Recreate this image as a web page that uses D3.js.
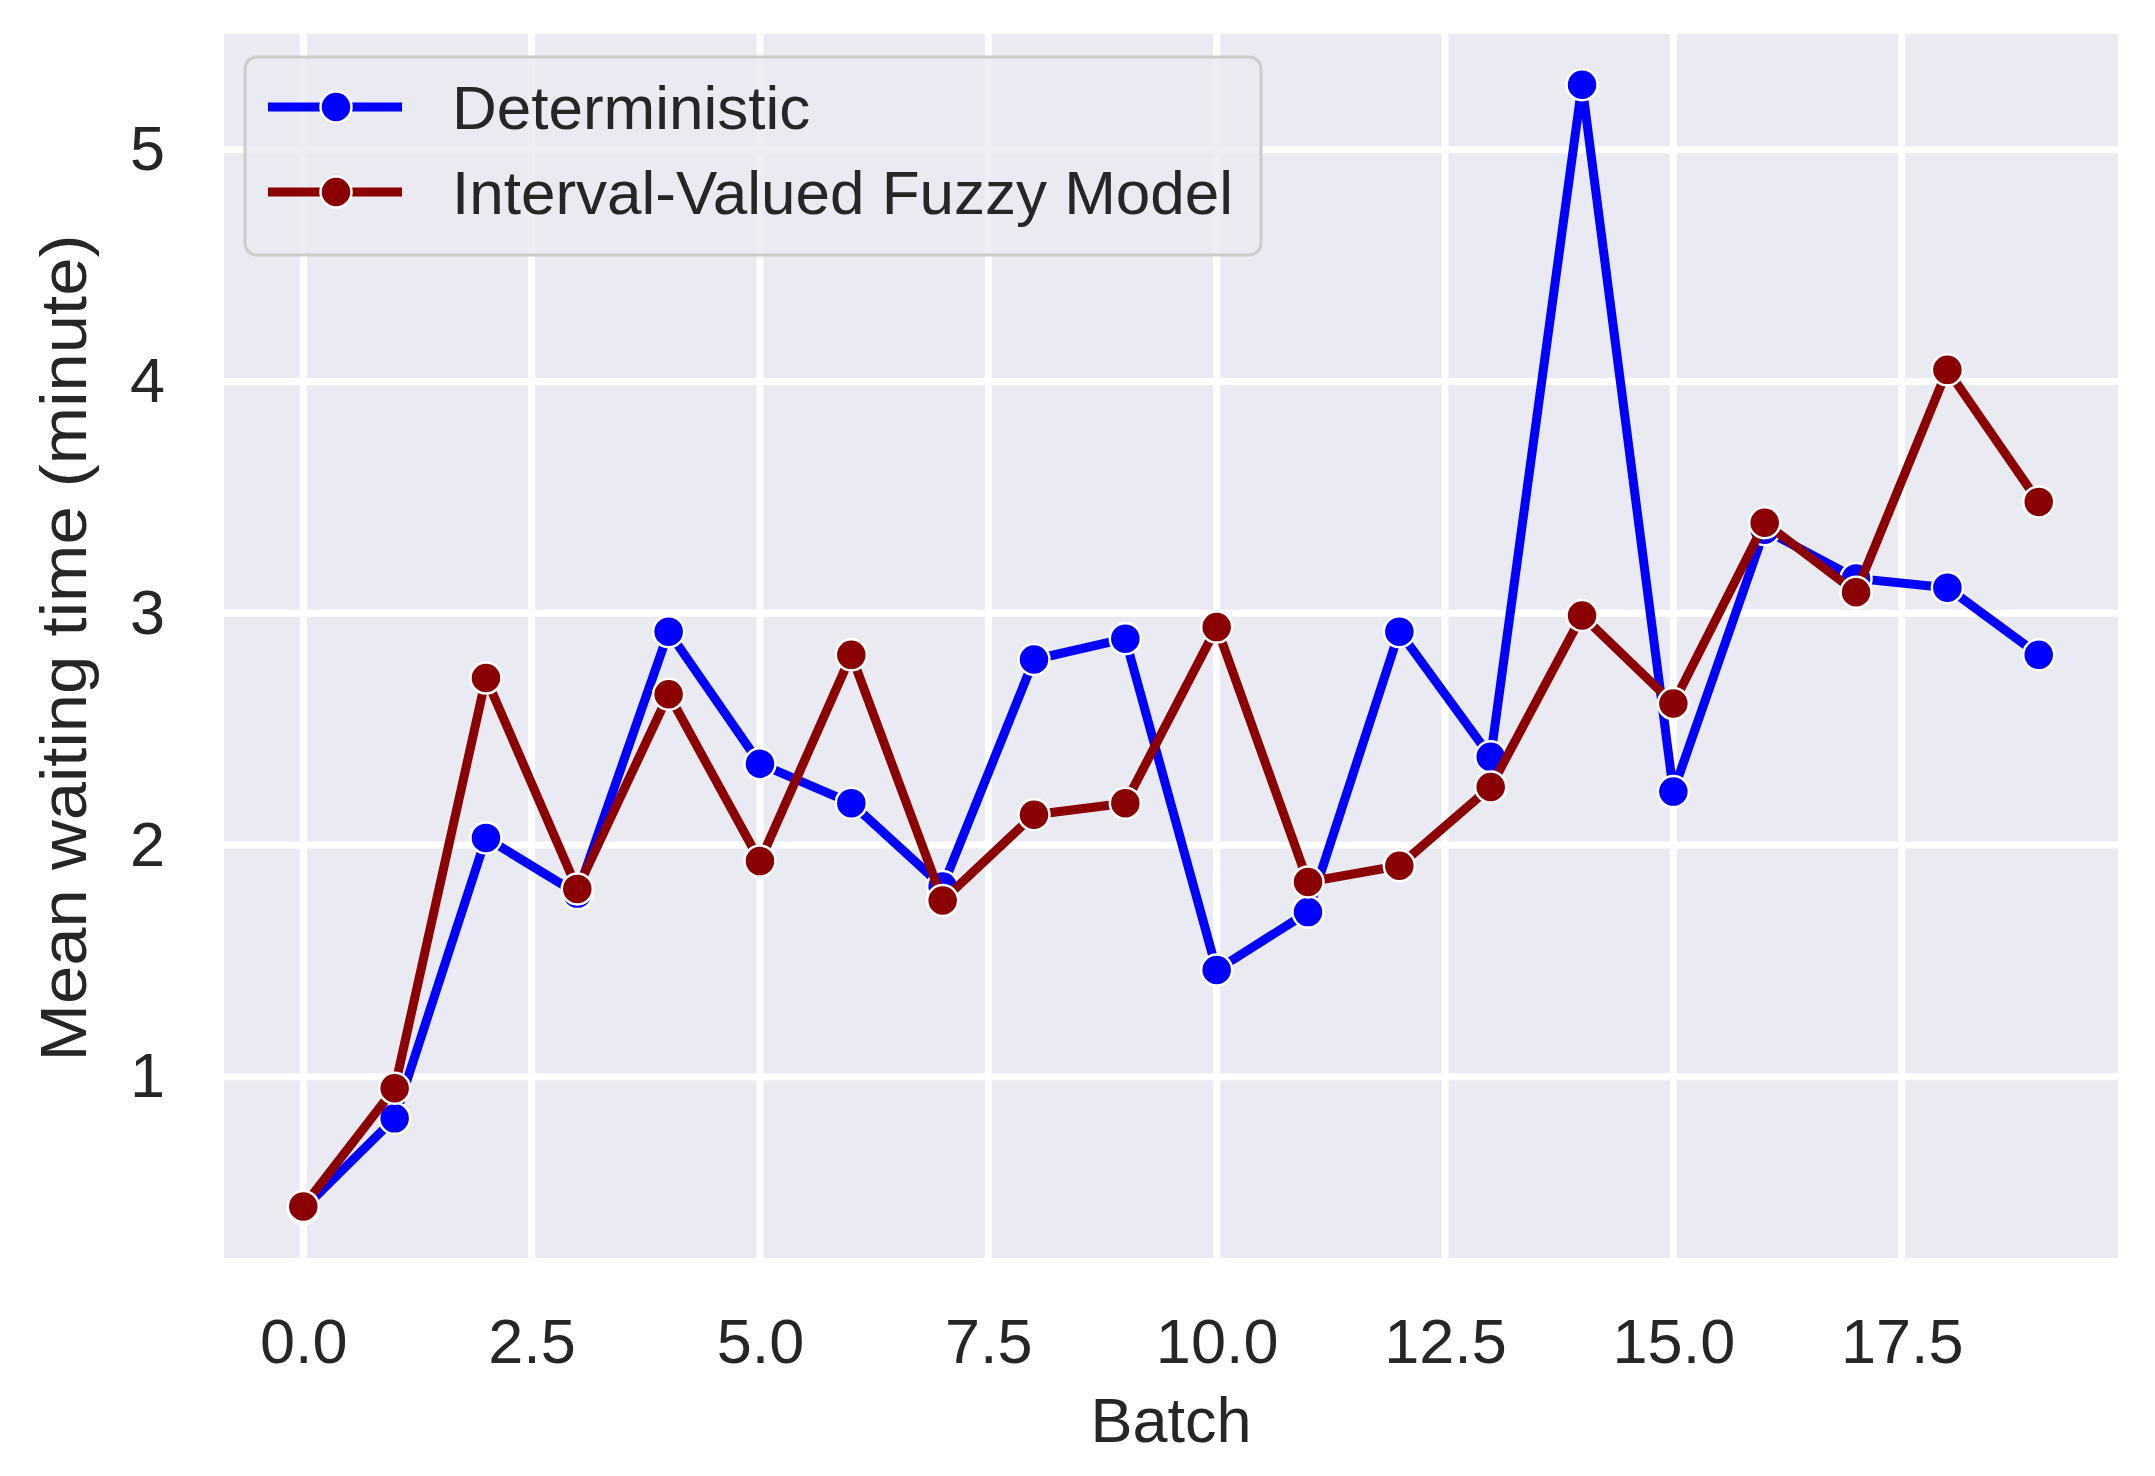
<!DOCTYPE html>
<html>
<head>
<meta charset="utf-8">
<script src="https://cdn.jsdelivr.net/npm/d3@7"></script>
<style>
  html, body { margin: 0; padding: 0; background: #ffffff; }
  svg { display: block; }
  text { font-family: "Liberation Sans", Arial, sans-serif; fill: #262626; }
</style>
</head>
<body>
<svg id="chart" width="2155" height="1476"></svg>
<script>
// ---- data ----
const batches = [0,1,2,3,4,5,6,7,8,9,10,11,12,13,14,15,16,17,18,19];
const deterministic = [0.43, 0.82, 2.03, 1.79, 2.92, 2.35, 2.18, 1.82, 2.80, 2.89,
                       1.46, 1.71, 2.92, 2.38, 5.28, 2.23, 3.36, 3.15, 3.11, 2.82];
const fuzzy = [0.44, 0.95, 2.72, 1.81, 2.65, 1.93, 2.82, 1.76, 2.13, 2.18,
               2.94, 1.84, 1.91, 2.25, 2.99, 2.61, 3.39, 3.09, 4.05, 3.48];
const xTicks = [0, 2.5, 5, 7.5, 10, 12.5, 15, 17.5];
const yTicks = [1, 2, 3, 4, 5];
const seriesNames = ["Deterministic", "Interval-Valued Fuzzy Model"];
const seriesColors = ["#0000ff", "#8b0000"];

// ---- layout ----
const plot = { left: 224, right: 2118, top: 34, bottom: 1258 };
const svg = d3.select("#chart");

const x = d3.scaleLinear().domain([-0.868, 19.868]).range([plot.left, plot.right]);
const y = d3.scaleLinear().domain([0.2175, 5.499]).range([plot.bottom, plot.top]);

// background
svg.append("rect")
  .attr("x", plot.left).attr("y", plot.top)
  .attr("width", plot.right - plot.left).attr("height", plot.bottom - plot.top)
  .attr("fill", "#eaeaf2");

// grid
const grid = svg.append("g");
grid.selectAll("line.v").data(xTicks).join("line")
  .attr("x1", d => x(d)).attr("x2", d => x(d))
  .attr("y1", plot.top).attr("y2", plot.bottom)
  .attr("stroke", "#ffffff").attr("stroke-width", 7);
grid.selectAll("line.h").data(yTicks).join("line")
  .attr("y1", d => y(d)).attr("y2", d => y(d))
  .attr("x1", plot.left).attr("x2", plot.right)
  .attr("stroke", "#ffffff").attr("stroke-width", 7);

// axes (tick labels only)
const xAxis = d3.axisBottom(x).tickValues(xTicks).tickFormat(d3.format(".1f")).tickSize(0).tickPadding(60);
const gx = svg.append("g").attr("transform", `translate(0,${plot.bottom})`).call(xAxis);
gx.select(".domain").remove();
gx.selectAll("text").attr("font-size", 63).attr("fill", "#262626")
  .attr("font-family", "Liberation Sans, Arial, sans-serif");

const yAxis = d3.axisLeft(y).tickValues(yTicks).tickFormat(d3.format("d")).tickSize(0).tickPadding(59);
const gy = svg.append("g").attr("transform", `translate(${plot.left},0)`).call(yAxis);
gy.select(".domain").remove();
gy.selectAll("text").attr("font-size", 63).attr("fill", "#262626")
  .attr("font-family", "Liberation Sans, Arial, sans-serif");

// axis titles
svg.append("text")
  .attr("x", (plot.left + plot.right) / 2).attr("y", 1442)
  .attr("text-anchor", "middle").attr("font-size", 63)
  .text("Batch");
svg.append("text")
  .attr("transform", `translate(86,${(plot.top + plot.bottom) / 2 + 2}) rotate(-90) scale(1.06,1)`)
  .attr("text-anchor", "middle").attr("font-size", 65)
  .text("Mean waiting time (minute)");

// series
const allSeries = [deterministic, fuzzy];
const line = d3.line().x((d, i) => x(batches[i])).y(d => y(d));
allSeries.forEach((vals, s) => {
  const g = svg.append("g");
  g.append("path").datum(vals)
    .attr("d", line)
    .attr("fill", "none")
    .attr("stroke", seriesColors[s])
    .attr("stroke-width", 9)
    .attr("stroke-linejoin", "round");
  g.selectAll("circle").data(vals).join("circle")
    .attr("cx", (d, i) => x(batches[i]))
    .attr("cy", d => y(d))
    .attr("r", 15.5)
    .attr("fill", seriesColors[s])
    .attr("stroke", "#ffffff")
    .attr("stroke-width", 2.5);
});

// legend
const lg = svg.append("g");
lg.append("rect")
  .attr("x", 245).attr("y", 57)
  .attr("width", 1261 - 245).attr("height", 255 - 57)
  .attr("rx", 12).attr("ry", 12)
  .attr("fill", "#eaeaf2").attr("fill-opacity", 0.8)
  .attr("stroke", "#cccccc").attr("stroke-width", 3);
const legendRows = [107, 192];
seriesNames.forEach((name, s) => {
  const cy = legendRows[s];
  lg.append("line")
    .attr("x1", 268).attr("x2", 402).attr("y1", cy).attr("y2", cy)
    .attr("stroke", seriesColors[s]).attr("stroke-width", 9);
  lg.append("circle")
    .attr("cx", 336).attr("cy", cy).attr("r", 15.5)
    .attr("fill", seriesColors[s]).attr("stroke", "#ffffff").attr("stroke-width", 2.5);
  lg.append("text")
    .attr("x", 452).attr("y", cy).attr("dy", "0.35em")
    .attr("font-size", 62)
    .text(name);
});
</script>
</body>
</html>
